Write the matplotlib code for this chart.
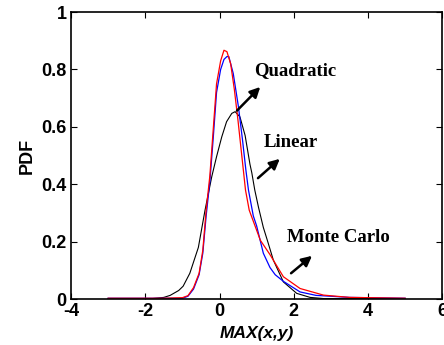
import matplotlib
matplotlib.use("Agg")
import matplotlib.pyplot as plt

plt.rcParams["axes.unicode_minus"] = False

# Monte Carlo (red)
mc_x = [-3.0, -1.5, -1.0, -0.85, -0.7, -0.55, -0.45, -0.36, -0.26, -0.17, -0.08, 0.03, 0.12,
        0.2, 0.3, 0.4, 0.5, 0.6, 0.7, 0.8, 0.9, 1.1, 1.36, 1.72, 2.17, 2.8, 3.5, 5.0]
mc_y = [0.003, 0.003, 0.005, 0.012, 0.04, 0.09, 0.17, 0.31, 0.43, 0.59, 0.75, 0.83, 0.867,
        0.862, 0.82, 0.73, 0.62, 0.50, 0.38, 0.31, 0.275, 0.205, 0.155, 0.078, 0.037, 0.014,
        0.006, 0.003]

# Quadratic (blue)
quad_x = [-3.0, -1.5, -1.0, -0.85, -0.7, -0.55, -0.45, -0.36, -0.26, -0.17, -0.08, 0.03,
          0.12, 0.2, 0.25, 0.37, 0.51, 0.62, 0.71, 0.78, 0.91, 1.0, 1.18, 1.36, 1.5, 1.72,
          2.17, 2.6, 3.0, 3.5, 5.0]
quad_y = [0.003, 0.003, 0.003, 0.01, 0.035, 0.085, 0.16, 0.29, 0.41, 0.56, 0.72, 0.80,
          0.835, 0.845, 0.845, 0.786, 0.67, 0.554, 0.45, 0.38, 0.29, 0.255, 0.16, 0.11,
          0.085, 0.062, 0.025, 0.013, 0.01, 0.006, 0.003]

# Linear (black)
lin_x = [-3.0, -1.8, -1.5, -1.33, -1.1, -0.98, -0.8, -0.57, -0.39, -0.21, -0.08, 0.06, 0.19,
         0.33, 0.42, 0.55, 0.69, 0.82, 0.87, 0.95, 1.05, 1.18, 1.3, 1.45, 1.72, 2.08,
         2.44, 2.8, 5.0]
lin_y = [0.002, 0.002, 0.006, 0.013, 0.03, 0.045, 0.09, 0.18, 0.31, 0.426, 0.496, 0.565, 0.618,
         0.647, 0.653, 0.635, 0.57, 0.47, 0.44, 0.38, 0.32, 0.25, 0.20, 0.136, 0.06,
         0.02, 0.006, 0.002, 0.002]

fig = plt.figure(figsize=(4.44, 3.45), dpi=100)
ax = fig.add_axes([0.16, 0.133, 0.836, 0.832])

ax.plot(lin_x, lin_y, color="black", lw=0.8)
ax.plot(quad_x, quad_y, color="blue", lw=0.9)
ax.plot(mc_x, mc_y, color="red", lw=0.9)

ax.set_xlim(-4, 6)
ax.set_ylim(0, 1)
ax.set_xticks([-4, -2, 0, 2, 4, 6])
ax.set_yticks([0, 0.2, 0.4, 0.6, 0.8, 1])
ax.set_yticklabels(["0", "0.2", "0.4", "0.6", "0.8", "1"])
ax.tick_params(direction="in", top=True, right=True, length=4, width=0.8,
               labelsize=13, pad=3)
for lab in ax.get_xticklabels() + ax.get_yticklabels():
    lab.set_fontfamily("Liberation Sans")
    lab.set_fontweight("bold")
for s in ax.spines.values():
    s.set_linewidth(1.2)

ax.set_xlabel("MAX(x,y)", fontsize=12.5, family="Liberation Sans", fontweight="bold",
              fontstyle="italic", labelpad=4)
ax.set_ylabel("PDF", fontsize=13, family="Liberation Sans", fontweight="bold", labelpad=4)

serif = dict(family="Liberation Serif", fontweight="bold", fontsize=13.5)
arrow = dict(arrowstyle="-|>,head_length=0.6,head_width=0.3", color="black", lw=1.8)

ax.text(0.93, 0.798, "Quadratic", va="center", ha="left", **serif)
ax.annotate("", xy=(1.15, 0.746), xytext=(0.42, 0.65), arrowprops=arrow)
ax.text(1.2, 0.544, "Linear", va="center", ha="left", **serif)
ax.annotate("", xy=(1.68, 0.495), xytext=(0.98, 0.415), arrowprops=arrow)
ax.text(1.82, 0.216, "Monte Carlo", va="center", ha="left", **serif)
ax.annotate("", xy=(2.55, 0.157), xytext=(1.87, 0.084), arrowprops=arrow)

fig.savefig("out.png", dpi=100)
